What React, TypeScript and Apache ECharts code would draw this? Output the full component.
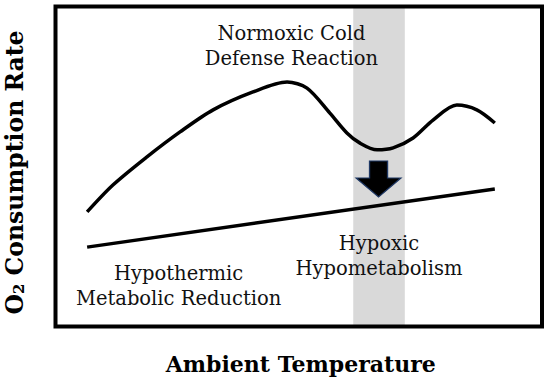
import React, { useEffect, useRef } from "react";
import * as echarts from "echarts";

// Normoxic response curve (arbitrary units, 0-100)
const normoxicTemp = [6.5, 11.8, 18.8, 25.6, 32.4, 40.6, 47.6, 51.7, 56.4, 59.9, 62.6, 66.1, 69.4, 73.5, 77.6, 82.5, 86.6, 90.3];
const normoxicO2 = [35.8, 44.2, 53.0, 60.8, 67.7, 73.3, 76.4, 74.5, 66.7, 60.5, 57.3, 55.2, 55.8, 58.9, 64.5, 69.2, 67.7, 63.6];

// Hypoxic response line
const hypoxicTemp = [6.5, 90.3];
const hypoxicO2 = [24.8, 43.0];

// Shaded temperature band
const bandRange = [61.2, 71.8];

// Arrow position
const arrowPoint = [66.4, 46.1];

// Annotations
const labelTexts = ["Normoxic Cold\nDefense Reaction", "Hypothermic\nMetabolic Reduction", "Hypoxic\nHypometabolism"];
const labelTemp = [48.5, 25.3, 66.5];
const labelO2 = [87.7, 12.7, 22.0];

const xTitle = "Ambient Temperature";

const SERIF = "DejaVu Serif";

export default function App() {
  const ref = useRef<HTMLDivElement>(null);
  useEffect(() => {
    document.body.style.margin = "0";
    if (!ref.current) return;
    const chart = echarts.init(ref.current, undefined, { renderer: "svg" });
    chart.setOption({
      animation: false,
      backgroundColor: "#ffffff",
      grid: {
        left: 55.5,
        top: 6.5,
        right: 8,
        bottom: 60.5,
        outerBoundsMode: "none",
        containLabel: false,
        show: true,
        borderWidth: 4,
        borderColor: "#000",
        backgroundColor: "transparent",
        z: 10,
      },
      xAxis: {
        type: "value",
        min: 0,
        max: 100,
        axisLine: { show: false },
        axisTick: { show: false },
        axisLabel: { show: false },
        splitLine: { show: false },
        name: xTitle,
        nameLocation: "middle",
        nameGap: 26,
        nameTextStyle: { fontFamily: SERIF, fontWeight: "bold", fontSize: 22, color: "#000", padding: [0, 0, 0, 4] },
      },
      yAxis: {
        type: "value",
        min: 0,
        max: 100,
        axisLine: { show: false },
        axisTick: { show: false },
        axisLabel: { show: false },
        splitLine: { show: false },
        name: "{b|O}{s|2}{b| Consumption Rate}",
        nameLocation: "middle",
        nameRotate: 90,
        nameGap: 29,
        nameTextStyle: {
          color: "#000",
          padding: [0, 12, 0, 0],
          rich: {
            b: { fontFamily: SERIF, fontWeight: "bold", fontSize: 23.5, lineHeight: 24, color: "#000" },
            s: { fontFamily: SERIF, fontWeight: "bold", fontSize: 15, lineHeight: 13, verticalAlign: "bottom", color: "#000" },
          },
        },
      },
      series: [
        {
          type: "line",
          name: "Normoxic",
          data: normoxicTemp.map((t, i) => [t, normoxicO2[i]]),
          smooth: 0.3,
          showSymbol: false,
          symbol: "none",
          lineStyle: { color: "#000", width: 3.5 },
          z: 3,
          markArea: {
            silent: true,
            itemStyle: { color: "#d9d9d9" },
            data: [[{ xAxis: bandRange[0] }, { xAxis: bandRange[1] }]],
          },
        },
        {
          type: "line",
          name: "Hypoxic",
          data: hypoxicTemp.map((t, i) => [t, hypoxicO2[i]]),
          showSymbol: false,
          symbol: "none",
          lineStyle: { color: "#000", width: 3.5 },
          z: 3,
        },
        {
          type: "scatter",
          name: "Arrow",
          data: [arrowPoint],
          symbol: "path://M13.5,0 L31.5,0 L31.5,17 L45,17 L22.5,36 L0,17 L13.5,17 Z",
          symbolSize: [45, 36],
          itemStyle: { color: "#000", borderColor: "#1f3864", borderWidth: 1.2, opacity: 1 },
          z: 4,
        },
        {
          type: "scatter",
          name: "Labels",
          data: labelTexts.map((s, i) => [labelTemp[i], labelO2[i], s]),
          symbolSize: 0,
          silent: true,
          itemStyle: { opacity: 1 },
          label: {
            show: true,
            position: "inside",
            formatter: (p: any) => p.value[2],
            fontFamily: SERIF,
            fontSize: 19.5,
            lineHeight: 25,
            color: "#111",
            opacity: 1,
            align: "center",
            verticalAlign: "middle",
          },
          z: 5,
        },
      ],
    });
    return () => chart.dispose();
  }, []);
  return <div ref={ref} style={{ width: 550, height: 387 }} />;
}
